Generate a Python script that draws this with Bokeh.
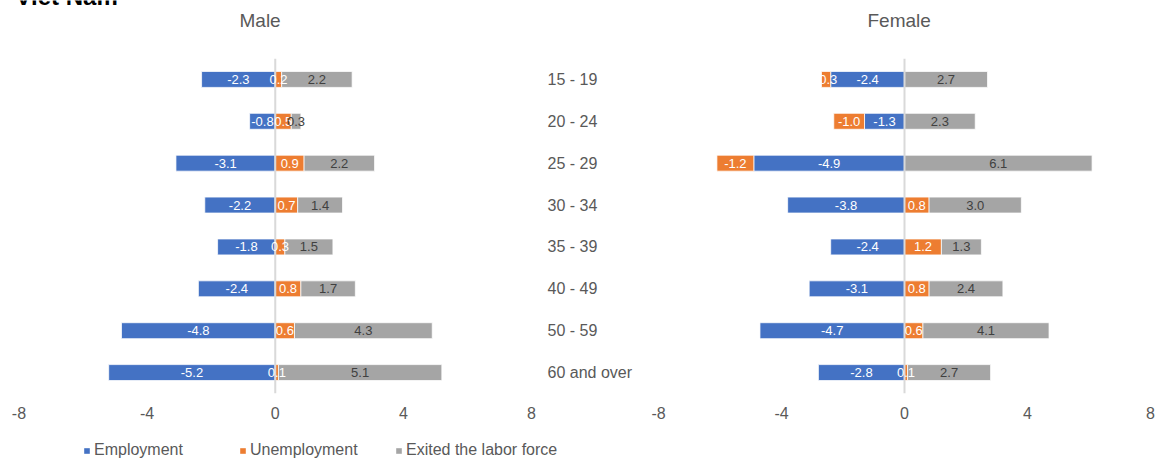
from bokeh.plotting import figure
from bokeh.models import (FactorRange, Range1d, FixedTicker, CategoricalAxis, Span,
                          LabelSet, ColumnDataSource, Legend, LegendItem, Label)
from bokeh.layouts import row, column
from bokeh.core.properties import value
from bokeh.embed import file_html
from bokeh.resources import INLINE

# Change by age group (percentage points), split into the three outcomes
ages = ["15 - 19", "20 - 24", "25 - 29", "30 - 34", "35 - 39", "40 - 49", "50 - 59", "60 and over"]
series_names = ["Employment", "Unemployment", "Exited the labor force"]

male_employment = [-2.3, -0.8, -3.1, -2.2, -1.8, -2.4, -4.8, -5.2]
male_unemployment = [0.2, 0.5, 0.9, 0.7, 0.3, 0.8, 0.6, 0.1]
male_exited = [2.2, 0.3, 2.2, 1.4, 1.5, 1.7, 4.3, 5.1]

female_employment = [-2.4, -1.3, -4.9, -3.8, -2.4, -3.1, -4.7, -2.8]
female_unemployment = [-0.3, -1.0, -1.2, 0.8, 1.2, 0.8, 0.6, 0.1]
female_exited = [2.7, 2.3, 6.1, 3.0, 1.3, 2.4, 4.1, 2.7]

x_ticks = [-8, -4, 0, 4, 8]

COLORS = ["#4472C4", "#ED7D31", "#A5A5A5"]
LABEL_COLORS = ["white", "white", "#404040"]
TEXT = "#595959"
FONT = "Liberation Sans"


def bare_figure(width, height, **kw):
    p = figure(width=width, height=height, title=None,
               output_backend="svg", toolbar_location=None,
               min_border_left=0, min_border_right=0,
               min_border_top=0, min_border_bottom=0, **kw)
    p.outline_line_color = None
    p.background_fill_color = "white"
    p.border_fill_color = "white"
    return p


def stacked_segments(series):
    """Negative values stack leftwards from zero, positive ones rightwards."""
    n = len(series[0])
    neg = [0.0] * n
    pos = [0.0] * n
    out = []
    for vals in series:
        lefts, rights = [], []
        for i, v in enumerate(vals):
            if v < 0:
                rights.append(neg[i])
                neg[i] += v
                lefts.append(neg[i])
            else:
                lefts.append(pos[i])
                pos[i] += v
                rights.append(pos[i])
        out.append((lefts, rights))
    return out


def make_panel(series, x_start, x_end, width, border_left, border_right):
    p = bare_figure(width, 382,
                    y_range=FactorRange(factors=list(reversed(ages))),
                    x_range=Range1d(x_start, x_end),
                    y_axis_location=None)
    p.min_border_left = border_left
    p.min_border_right = border_right
    p.min_border_bottom = 47
    p.grid.visible = False

    ax = p.xaxis[0]
    ax.ticker = FixedTicker(ticks=x_ticks)
    ax.major_label_overrides = {t: str(t) for t in x_ticks}
    ax.axis_line_color = None
    ax.major_tick_line_color = None
    ax.minor_tick_line_color = None
    ax.major_tick_out = 0
    ax.major_tick_in = 0
    ax.major_label_standoff = 13
    ax.major_label_text_font = FONT
    ax.major_label_text_font_size = "16px"
    ax.major_label_text_color = TEXT

    sources = []
    for vals, (lefts, rights), color in zip(series, stacked_segments(series), COLORS):
        src = ColumnDataSource(dict(
            y=ages, left=lefts, right=rights,
            mid=[(a + b) / 2 for a, b in zip(lefts, rights)],
            label=[f"{v:.1f}" for v in vals]))
        p.hbar(y="y", left="left", right="right", height=0.38, source=src,
               fill_color=color, line_color="white", line_width=0.75)
        sources.append(src)

    p.add_layout(Span(location=0, dimension="height", line_color="#D9D9D9", line_width=2))

    for src, lc in zip(sources, LABEL_COLORS):
        p.add_layout(LabelSet(x="mid", y="y", text="label", source=src,
                              text_align="center", text_baseline="middle",
                              text_font=value(FONT), text_font_size=value("13px"),
                              text_color=lc))
    return p, sources


male, male_sources = make_panel([male_employment, male_unemployment, male_exited],
                                -8.14, 8.28, 650, 14, 110)
female, _ = make_panel([female_employment, female_unemployment, female_exited],
                       -8.26, 8.195, 508, 0, 2)

# Age-group labels sit between the two panels, on the right side of the male panel
cat_axis = CategoricalAxis()
cat_axis.axis_line_color = None
cat_axis.major_tick_line_color = None
cat_axis.minor_tick_line_color = None
cat_axis.major_tick_out = 0
cat_axis.major_tick_in = 0
cat_axis.major_label_standoff = 7
cat_axis.major_label_text_font = FONT
cat_axis.major_label_text_font_size = "16px"
cat_axis.major_label_text_color = TEXT
male.add_layout(cat_axis, "right")

# Heading strip: country name (its lower edge only) and the two panel titles
top = bare_figure(1158, 58, x_range=Range1d(0, 1), y_range=Range1d(0, 1),
                  x_axis_location=None, y_axis_location=None)
top.grid.visible = False
top.add_layout(Label(x=15, y=62, x_units="screen", y_units="screen", text="Viet Nam",
                     text_font=FONT, text_font_size="24px", text_font_style="bold",
                     text_color="black", text_baseline="alphabetic"))
for name, left in (("Male", 239), ("Female", 867)):
    top.add_layout(Label(x=left, y=38, x_units="screen", y_units="screen", text=name,
                         text_font=FONT, text_font_size="19px", text_color=TEXT,
                         text_baseline="middle"))

# Legend strip along the bottom; its swatch renderers are flat (zero height) bars
key = bare_figure(1158, 20, x_range=Range1d(-8, 8),
                  y_range=FactorRange(factors=list(reversed(ages))),
                  x_axis_location=None, y_axis_location=None)
key.grid.visible = False
key_renderers = [key.hbar(y="y", left="left", right="right", height=0, source=src,
                          fill_color=c, line_color=None)
                 for src, c in zip(male_sources, COLORS)]
legend = Legend(items=[LegendItem(label=name, renderers=[r])
                       for name, r in zip(series_names, key_renderers)],
                orientation="horizontal", location=(83, 0),
                glyph_width=7, glyph_height=7, label_standoff=4, label_width=145,
                label_height=20, spacing=0, padding=0, margin=0,
                label_text_font=FONT, label_text_font_size="16px", label_text_color=TEXT,
                background_fill_alpha=0, border_line_color=None)
key.add_layout(legend, "center")

layout = column(top, row(male, female), key)
open("out.html", "w").write(file_html(layout, INLINE))
